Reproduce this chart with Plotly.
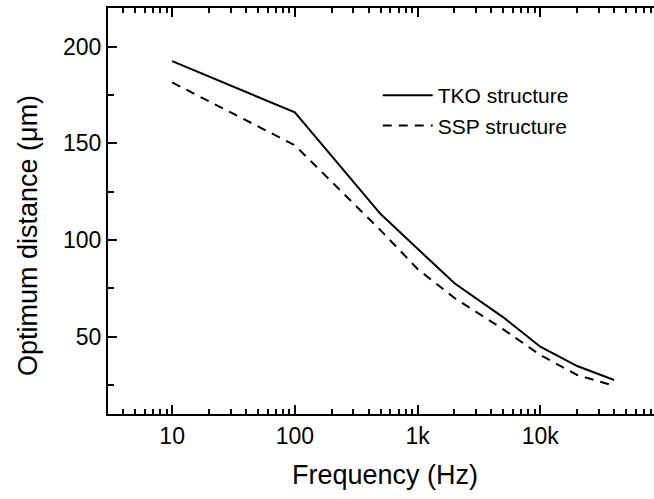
import math
import plotly.graph_objects as go

# ---- data ----
freq_hz = [10, 100, 500, 1000, 2000, 5000, 10000, 20000, 40000]
tko_um = [192.5, 166.0, 113.4, 95.3, 77.6, 60.0, 44.8, 34.8, 27.6]
ssp_um = [181.5, 149.0, 105.0, 85.0, 70.0, 53.8, 40.5, 30.2, 24.6]

x_tick_vals = [10, 100, 1000, 10000]
x_tick_text = ["10", "100", "1k", "10k"]
x_minor_vals = [m * d for d in [1, 10, 100, 1000, 10000] for m in range(2, 10)]
y_tick_vals = [50, 100, 150, 200]

FONT = "Liberation Sans, Arial, Helvetica, sans-serif"

fig = go.Figure()
fig.add_trace(go.Scatter(x=freq_hz, y=tko_um, mode="lines", name="TKO structure",
                         line=dict(color="black", width=2)))
fig.add_trace(go.Scatter(x=freq_hz, y=ssp_um, mode="lines", name="SSP structure",
                         line=dict(color="black", width=2, dash="9px,7px")))

axis_common = dict(showline=True, linecolor="black", linewidth=2, ticks="inside",
                   tickcolor="black", tickwidth=1.5, ticklen=9, showgrid=False,
                   zeroline=False, tickfont=dict(size=23, color="black", family=FONT))

fig.update_layout(
    width=654, height=499,
    margin=dict(l=108, r=0, t=8, b=85),
    paper_bgcolor="white", plot_bgcolor="white",
    font=dict(family=FONT, color="black"),
    showlegend=True,
    legend=dict(x=0.494, y=0.835, xanchor="left", yanchor="top", bgcolor="rgba(0,0,0,0)",
                font=dict(size=21, family=FONT, color="black"), itemwidth=50,
                tracegroupgap=0),
    xaxis=dict(type="log", range=[math.log10(3), 4.927], mirror="ticks",
               tickvals=x_tick_vals, ticktext=x_tick_text,
               minor=dict(tickvals=x_minor_vals, ticks="inside", ticklen=5,
                          tickcolor="black", tickwidth=1.5),
               **axis_common),
    yaxis=dict(range=[10, 220], mirror=False, tickvals=y_tick_vals,
               minor=dict(dtick=25, ticks="inside", ticklen=6,
                          tickcolor="black", tickwidth=1.5),
               **axis_common),
    annotations=[
        dict(text="Frequency (Hz)", xref="paper", yref="paper",
             x=(385 - 108) / 546, y=-(475 - 414) / 406, xanchor="center", yanchor="middle",
             showarrow=False, font=dict(size=27, family=FONT, color="black")),
        dict(text="Optimum distance (\u03bcm)", xref="paper", yref="paper",
             x=-(108 - 28) / 546, y=(414 - 236) / 406, xanchor="center", yanchor="middle",
             textangle=-90, showarrow=False, font=dict(size=27, family=FONT, color="black")),
    ],
)

fig.write_html("out.html")
